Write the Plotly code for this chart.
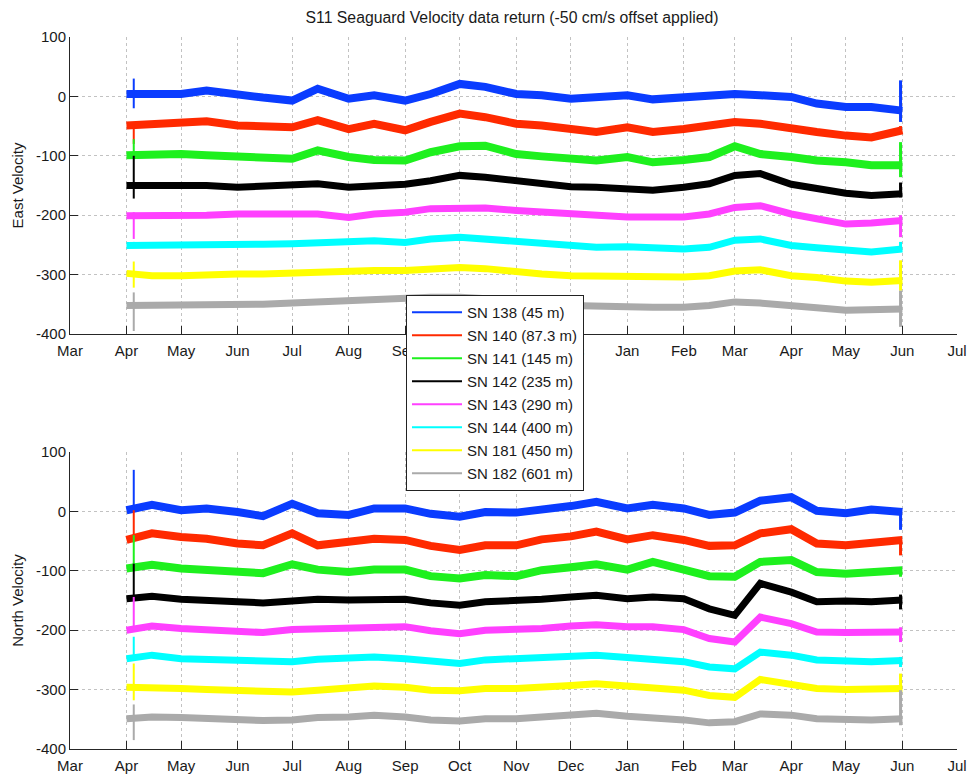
import plotly.graph_objects as go

# ---------------- data ----------------
dates = ["2014-04-01", "2014-04-15", "2014-05-01", "2014-05-15", "2014-06-01", "2014-06-15",
         "2014-07-01", "2014-07-15", "2014-08-01", "2014-08-15", "2014-09-01", "2014-09-15",
         "2014-10-01", "2014-10-15", "2014-11-01", "2014-11-15", "2014-12-01", "2014-12-15",
         "2015-01-01", "2015-01-15", "2015-02-01", "2015-02-15", "2015-03-01", "2015-03-15",
         "2015-04-01", "2015-04-15", "2015-05-01", "2015-05-15", "2015-06-01"]

names = ["SN 138 (45 m)", "SN 140 (87.3 m)", "SN 141 (145 m)", "SN 142 (235 m)",
         "SN 143 (290 m)", "SN 144 (400 m)", "SN 181 (450 m)", "SN 182 (601 m)"]

east_sn138 = [4, 4, 4, 10, 2, -2, -7, 13, -4, 2, -7, 4, 21, 16, 4, 2, -4, -1, 2, -5, -2, -1, 4, 2, -1, -12, -18, -18, -24]
east_sn140 = [-49, -46, -43, -42, -49, -49, -52, -40, -55, -46, -57, -43, -29, -35, -46, -49, -55, -60, -52, -60, -55, -49, -43, -46, -52, -60, -66, -69, -57]
east_sn141 = [-99, -97, -97, -99, -102, -103, -105, -91, -102, -107, -108, -94, -84, -83, -97, -101, -105, -108, -102, -111, -107, -102, -84, -97, -102, -108, -111, -116, -116]
east_sn142 = [-150, -150, -150, -150, -153, -152, -148, -147, -153, -150, -148, -142, -133, -136, -142, -147, -152, -153, -156, -158, -153, -147, -133, -130, -148, -156, -163, -167, -164]
east_sn143 = [-201, -201, -201, -200, -198, -199, -198, -198, -204, -198, -195, -189, -187, -188, -192, -195, -199, -202, -203, -203, -203, -198, -187, -184, -198, -206, -215, -213, -209]
east_sn144 = [-251, -251, -251, -251, -251, -249, -248, -246, -246, -243, -246, -240, -237, -240, -246, -248, -251, -254, -253, -254, -257, -254, -242, -240, -251, -255, -260, -262, -257]
east_sn181 = [-298, -302, -302, -300, -299, -299, -297, -296, -294, -293, -293, -290, -288, -290, -296, -299, -302, -303, -304, -305, -304, -302, -294, -292, -302, -305, -311, -313, -310]
east_sn182 = [-352, -352, -352, -352, -352, -350, -348, -346, -345, -341, -341, -338, -338, -340, -343, -346, -352, -352, -354, -355, -355, -352, -346, -348, -354, -356, -360, -360, -358]

north_sn138 = [2, 11, 2, 5, -1, -8, 13, -3, -6, 5, 5, -4, -9, -1, -2, 2, 9, 16, 5, 11, 5, -6, -2, 18, 24, 1, -3, 3, -1]
north_sn140 = [-48, -37, -43, -46, -54, -57, -37, -57, -51, -46, -48, -58, -65, -57, -57, -47, -42, -34, -47, -40, -48, -58, -57, -37, -30, -54, -57, -54, -48]
north_sn141 = [-96, -90, -96, -98, -100, -104, -89, -98, -102, -98, -98, -109, -113, -107, -109, -99, -94, -89, -98, -85, -98, -109, -110, -85, -82, -102, -105, -102, -99]
north_sn142 = [-147, -143, -148, -151, -152, -154, -152, -148, -149, -148, -148, -154, -158, -152, -151, -148, -144, -141, -147, -144, -147, -164, -175, -121, -136, -152, -151, -152, -149]
north_sn143 = [-200, -193, -197, -199, -201, -204, -199, -198, -197, -194, -194, -201, -206, -200, -199, -197, -193, -191, -194, -194, -199, -214, -220, -178, -189, -203, -204, -204, -203]
north_sn144 = [-248, -242, -248, -249, -252, -253, -253, -249, -248, -245, -248, -253, -256, -250, -248, -246, -244, -242, -246, -248, -253, -262, -265, -237, -242, -250, -253, -253, -251]
north_sn181 = [-296, -296, -298, -300, -301, -302, -304, -301, -297, -294, -296, -301, -302, -298, -298, -297, -293, -290, -294, -296, -301, -310, -313, -283, -290, -298, -300, -300, -298]
north_sn182 = [-349, -346, -347, -349, -351, -352, -351, -347, -346, -343, -346, -351, -353, -349, -349, -347, -343, -340, -345, -347, -351, -356, -354, -341, -343, -349, -351, -351, -349]

# start transient (around 5 Apr) and end transient (1 Jun): low / high values per instrument
start_date = "2014-04-05"
end_date = "2015-05-31"
east_start_lo = [-20, -80, -105, -172, -240, -255, -322, -395]
east_start_hi = [30, -45, -72, -100, -195, -245, -278, -330]
east_end_lo = [-43, -62, -136, -170, -237, -262, -327, -388]
east_end_hi = [27, -50, -77, -145, -200, -245, -276, -327]
north_start_lo = [0, -52, -100, -150, -200, -250, -318, -385]
north_start_hi = [70, 2, -40, -88, -144, -211, -256, -325]
north_end_lo = [-31, -74, -110, -165, -220, -262, -310, -360]
north_end_hi = [0, -48, -95, -140, -195, -245, -273, -301]

month_ticks = ["2014-03-01", "2014-04-01", "2014-05-01", "2014-06-01", "2014-07-01", "2014-08-01",
               "2014-09-01", "2014-10-01", "2014-11-01", "2014-12-01", "2015-01-01", "2015-02-01",
               "2015-03-01", "2015-04-01", "2015-05-01", "2015-06-01", "2015-07-01"]
month_labels = ["Mar", "Apr", "May", "Jun", "Jul", "Aug", "Sep", "Oct", "Nov", "Dec",
                "Jan", "Feb", "Mar", "Apr", "May", "Jun", "Jul"]
y_ticks = [-400, -300, -200, -100, 0, 100]
y_labels = ["-400", "-300", "-200", "-100", "0", "100"]

# ---------------- figure ----------------
colors = ["#0a3cff", "#ff2a00", "#1ef01e", "#000000", "#ff40ff", "#00ffff", "#ffff00", "#aaaaaa"]
widths = [8, 8, 8, 7, 7, 7, 7, 7]

east = [east_sn138, east_sn140, east_sn141, east_sn142, east_sn143, east_sn144, east_sn181, east_sn182]
north = [north_sn138, north_sn140, north_sn141, north_sn142, north_sn143, north_sn144, north_sn181, north_sn182]

fig = go.Figure()

panels = [
    (east, east_start_lo, east_start_hi, east_end_lo, east_end_hi, "x", "y"),
    (north, north_start_lo, north_start_hi, north_end_lo, north_end_hi, "x2", "y2"),
]
for series, slo, shi, elo, ehi, xa, ya in panels:
    for i in range(len(names)):
        fig.add_trace(go.Scatter(x=dates, y=series[i], mode="lines",
                                 line=dict(color=colors[i], width=widths[i]),
                                 showlegend=False, hoverinfo="skip", xaxis=xa, yaxis=ya))
        fig.add_trace(go.Scatter(x=[start_date, start_date], y=[slo[i], shi[i]], mode="lines",
                                 line=dict(color=colors[i], width=2),
                                 showlegend=False, hoverinfo="skip", xaxis=xa, yaxis=ya))
        fig.add_trace(go.Scatter(x=[end_date, end_date], y=[elo[i], ehi[i]], mode="lines",
                                 line=dict(color=colors[i], width=3),
                                 showlegend=False, hoverinfo="skip", xaxis=xa, yaxis=ya))

# legend-only entries with thin lines
for i, nm in enumerate(names):
    fig.add_trace(go.Scatter(x=[None], y=[None], mode="lines", name=nm, legendgroup=nm,
                             line=dict(color=colors[i], width=2), xaxis="x", yaxis="y"))

FONT = "Liberation Sans, Arial, sans-serif"
axis_common = dict(showline=True, linecolor="#262626", linewidth=1, ticks="inside", ticklen=8,
                   tickcolor="#262626", showgrid=True, gridcolor="#c2c2c2", griddash="dot",
                   gridwidth=1, zeroline=False, tickfont=dict(family=FONT, size=15, color="#1a1a1a"),
                   mirror=False, automargin=False)

xcommon = dict(axis_common, type="date", range=["2014-03-01", "2015-07-01"],
               tickmode="array", tickvals=month_ticks, ticktext=month_labels, ticklabelstandoff=3)
ycommon = dict(axis_common, range=[-400, 100], tickmode="array", tickvals=y_ticks, ticktext=y_labels)

W, H = 969, 774
fig.update_layout(
    width=W, height=H,
    margin=dict(l=70, r=12, t=37, b=25, autoexpand=False),
    paper_bgcolor="white", plot_bgcolor="white",
    font=dict(family=FONT, color="#1a1a1a"),
    title=dict(text="S11 Seaguard Velocity data return (-50 cm/s offset applied)",
               x=512 / W, xanchor="center", y=1 - 17 / H, yanchor="middle", automargin=False,
               font=dict(family=FONT, size=15.8, color="#1a1a1a")),
    xaxis=dict(xcommon, domain=[0, 1], anchor="y"),
    yaxis=dict(ycommon, domain=[0.5829, 1], anchor="x",
               title=dict(text="East Velocity", standoff=8, font=dict(family=FONT, size=15))),
    xaxis2=dict(xcommon, domain=[0, 1], anchor="y2"),
    yaxis2=dict(ycommon, domain=[0, 0.4171], anchor="x2",
                title=dict(text="North Velocity", standoff=8, font=dict(family=FONT, size=15))),
    legend=dict(x=0.3788, y=0.6376, xanchor="left", yanchor="top",
                bgcolor="white", bordercolor="#222222", borderwidth=1,
                font=dict(family=FONT, size=15, color="#1a1a1a"),
                itemwidth=50, tracegroupgap=0.5),
    showlegend=True,
)

# remove the default page margin so the 969x774 figure fills the window exactly
fig.write_html("out.html", config={"displayModeBar": False},
               post_script="document.body.style.margin='0';document.body.style.overflow='hidden';")
